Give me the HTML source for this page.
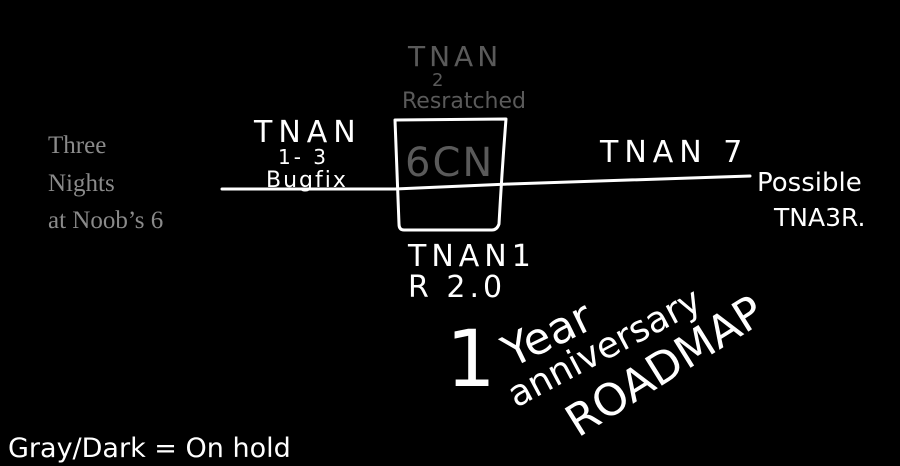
<!DOCTYPE html>
<html><head><meta charset="utf-8"><style>
html,body{margin:0;padding:0;background:#000;width:900px;height:466px;overflow:hidden}
svg{display:block}
.h{font-family:"DejaVu Sans","Liberation Sans",sans-serif;fill:#fff}
.g{fill:#5a5a5a}
</style></head><body>
<svg width="900" height="466" viewBox="0 0 900 466">
<g stroke="#fff" stroke-width="3" fill="none" stroke-linecap="round" stroke-linejoin="round">
<path d="M222 189 L395 189 L510 184 L750 176"/>
<path d="M395 120 L506 119 Q502 170 499 224 Q497 230 492 230 L404 230 Q399 230 399 224 Z"/>
</g>
<text x="48" y="153" font-family="Liberation Serif,serif" font-size="25" fill="#8a8a8a">Three</text>
<text x="48" y="191" font-family="Liberation Serif,serif" font-size="25" fill="#8a8a8a">Nights</text>
<text x="48" y="228" font-family="Liberation Serif,serif" font-size="25" fill="#8a8a8a">at Noob’s 6</text>
<text class="h g" x="408" y="66" font-size="28" letter-spacing="4">TNAN</text>
<text class="h g" x="432" y="86" font-size="18">2</text>
<text class="h g" x="402" y="108" font-size="22" letter-spacing="0">Resratched</text>
<text class="h g" x="405" y="176" font-size="40" letter-spacing="2">6CN</text>
<text class="h" x="254" y="142" font-size="30" letter-spacing="6">TNAN</text>
<text class="h" x="278" y="164" font-size="20" letter-spacing="3">1- 3</text>
<text class="h" x="266" y="187" font-size="22" letter-spacing="2">Bugfix</text>
<text class="h" x="600" y="162" font-size="30" letter-spacing="6">TNAN 7</text>
<text class="h" x="757" y="191" font-size="26" letter-spacing="0">Possible</text>
<text class="h" x="774" y="226" font-size="25">TNA3R.</text>
<text class="h" x="446" y="386" font-size="78">1</text>
<text class="h" x="512" y="368" font-size="44" transform="rotate(-26 512 368)">Year</text>
<text class="h" x="516" y="408" font-size="36" transform="rotate(-28 516 408)">anniversary</text>
<text class="h" x="578" y="438" font-size="44" transform="rotate(-32 578 438)">ROADMAP</text>
<text class="h" x="408" y="266" font-size="30" letter-spacing="5">TNAN1</text>
<text class="h" x="408" y="297" font-size="30" letter-spacing="4">R 2.0</text>
<text class="h" x="8" y="457" font-size="27">Gray/Dark = On hold</text>
</svg>
</body></html>
